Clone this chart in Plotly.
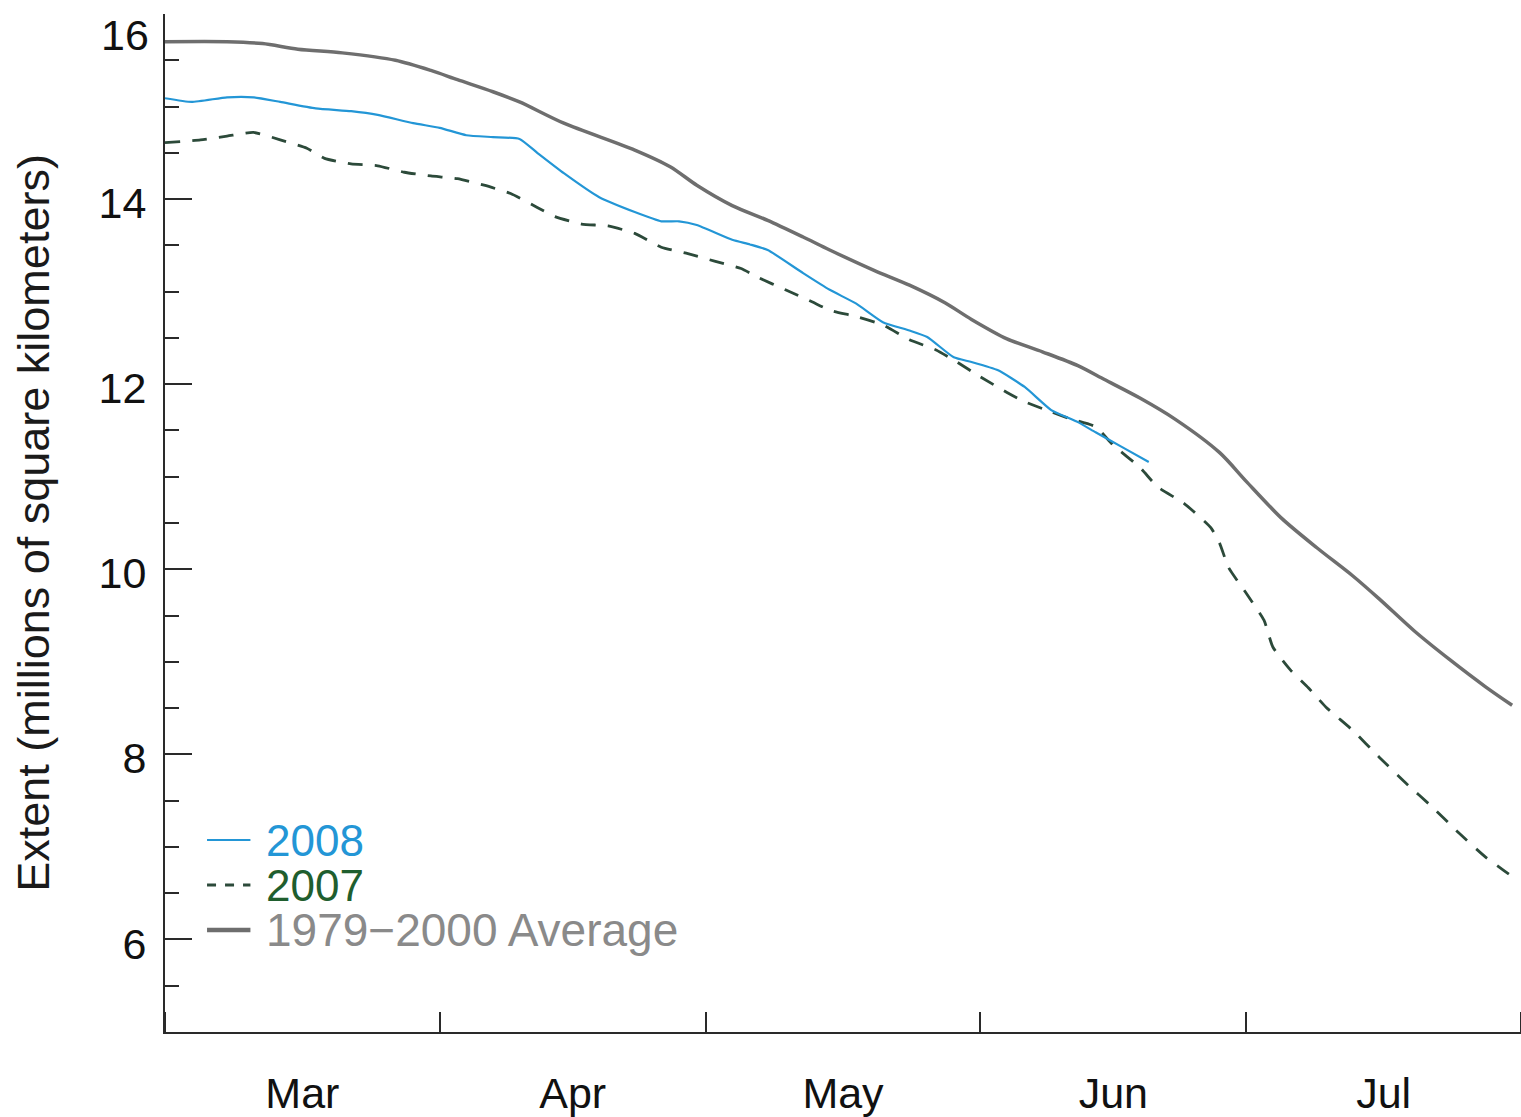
import plotly.graph_objects as go

# Arctic sea ice extent, millions of square kilometers
avg_dates = ["2008-03-01", "2008-03-08", "2008-03-12", "2008-03-16", "2008-03-21",
             "2008-03-27", "2008-03-31", "2008-04-03", "2008-04-07", "2008-04-10",
             "2008-04-15", "2008-04-23", "2008-04-27", "2008-04-30", "2008-05-04",
             "2008-05-08", "2008-05-12", "2008-05-15", "2008-05-20", "2008-05-24",
             "2008-05-28", "2008-05-31", "2008-06-04", "2008-06-08", "2008-06-12",
             "2008-06-15", "2008-06-19", "2008-06-23", "2008-06-28", "2008-07-01",
             "2008-07-05", "2008-07-09", "2008-07-13", "2008-07-16", "2008-07-20",
             "2008-07-24", "2008-07-28", "2008-07-31"]
avg_extent = [15.70, 15.70, 15.68, 15.62, 15.58,
              15.50, 15.39, 15.29, 15.16, 15.05,
              14.82, 14.53, 14.35, 14.15, 13.93,
              13.77, 13.59, 13.45, 13.23, 13.07,
              12.88, 12.70, 12.49, 12.35, 12.20,
              12.05, 11.85, 11.62, 11.26, 10.95,
              10.55, 10.23, 9.93, 9.68, 9.33,
              9.02, 8.73, 8.53]

ext2008_dates = ["2008-03-01", "2008-03-04", "2008-03-08", "2008-03-11", "2008-03-14",
                 "2008-03-18", "2008-03-22", "2008-03-25", "2008-03-29", "2008-04-01",
                 "2008-04-04", "2008-04-07", "2008-04-10", "2008-04-12", "2008-04-15",
                 "2008-04-19", "2008-04-23", "2008-04-26", "2008-04-28", "2008-04-30",
                 "2008-05-04", "2008-05-06", "2008-05-08", "2008-05-12", "2008-05-15",
                 "2008-05-18", "2008-05-21", "2008-05-24", "2008-05-26", "2008-05-29",
                 "2008-05-31", "2008-06-03", "2008-06-06", "2008-06-09", "2008-06-12",
                 "2008-06-14", "2008-06-17", "2008-06-20"]
ext2008 = [15.09, 15.05, 15.10, 15.10, 15.05,
           14.98, 14.95, 14.91, 14.82, 14.77,
           14.69, 14.67, 14.65, 14.50, 14.28,
           14.02, 13.86, 13.76, 13.76, 13.72,
           13.56, 13.51, 13.45, 13.20, 13.02,
           12.87, 12.67, 12.58, 12.51, 12.29,
           12.24, 12.15, 11.97, 11.72, 11.59,
           11.48, 11.32, 11.16]

ext2007_dates = ["2008-03-01", "2008-03-05", "2008-03-08", "2008-03-11", "2008-03-14",
                 "2008-03-17", "2008-03-19", "2008-03-22", "2008-03-25", "2008-03-28",
                 "2008-03-31", "2008-04-03", "2008-04-06", "2008-04-09", "2008-04-12",
                 "2008-04-14", "2008-04-17", "2008-04-20", "2008-04-23", "2008-04-26",
                 "2008-04-29", "2008-05-02", "2008-05-05", "2008-05-07", "2008-05-10",
                 "2008-05-13", "2008-05-15", "2008-05-18", "2008-05-21", "2008-05-24",
                 "2008-05-27", "2008-05-29", "2008-06-01", "2008-06-04", "2008-06-06",
                 "2008-06-09", "2008-06-11", "2008-06-14", "2008-06-16", "2008-06-19",
                 "2008-06-21", "2008-06-24", "2008-06-27", "2008-06-28", "2008-06-29",
                 "2008-07-01", "2008-07-03", "2008-07-04", "2008-07-06", "2008-07-08",
                 "2008-07-10", "2008-07-13", "2008-07-16", "2008-07-19", "2008-07-22",
                 "2008-07-25", "2008-07-28", "2008-07-30", "2008-07-31"]
ext2007 = [14.61, 14.64, 14.68, 14.72, 14.64,
           14.55, 14.44, 14.38, 14.36, 14.29,
           14.25, 14.22, 14.15, 14.06, 13.91,
           13.81, 13.73, 13.71, 13.63, 13.48,
           13.41, 13.33, 13.25, 13.15, 13.02,
           12.89, 12.80, 12.73, 12.64, 12.48,
           12.37, 12.26, 12.08, 11.91, 11.81,
           11.70, 11.63, 11.54, 11.34, 11.10,
           10.89, 10.71, 10.45, 10.28, 10.02,
           9.74, 9.45, 9.16, 8.91, 8.72,
           8.51, 8.26, 7.97, 7.69, 7.43,
           7.15, 6.89, 6.75, 6.68]

y_tick_vals = [6, 8, 10, 12, 14, 16]
y_tick_text = ["6", "8", "10", "12", "14", ""]

FONT = "Liberation Sans, Arial, Helvetica, sans-serif"
BLUE = "#2396d6"
GREEN_LINE = "#2c4a3a"
GREEN_TEXT = "#1f5e2e"
GRAY_LINE = "#6e6e6e"
GRAY_TEXT = "#8a8a8a"
AXIS = "#2a2a2a"

fig = go.Figure()
fig.add_trace(go.Scatter(x=avg_dates, y=avg_extent, mode="lines", name="1979\u22122000 Average",
                         line=dict(color=GRAY_LINE, width=3.5, shape="spline", smoothing=0.8)))
fig.add_trace(go.Scatter(x=ext2007_dates, y=ext2007, mode="lines", name="2007",
                         line=dict(color=GREEN_LINE, width=2.8, dash="15px,12px",
                                   shape="spline", smoothing=0.5)))
fig.add_trace(go.Scatter(x=ext2008_dates, y=ext2008, mode="lines", name="2008",
                         line=dict(color=BLUE, width=2.2, shape="spline", smoothing=0.5)))

# legend keys and labels, lower left inside the axes
legend_rows = [
    ("2008", BLUE, 2.2, "solid", 0.1886, 44),
    ("2007", GREEN_LINE, 2.8, "dash", 0.1444, 44),
    ("1979\u22122000 Average", GRAY_LINE, 4.5, "solid", 0.1002, 46),
]
text_colors = {"2008": BLUE, "2007": GREEN_TEXT}
for label, color, width, dash, ypos, size in legend_rows:
    fig.add_shape(type="line", xref="paper", yref="paper",
                  x0=0.031, x1=0.063, y0=ypos, y1=ypos,
                  line=dict(color=color, width=width, dash=dash))
    fig.add_annotation(xref="paper", yref="paper", x=0.073, y=ypos,
                       xanchor="left", yanchor="middle", showarrow=False,
                       text=label, font=dict(family=FONT, size=size,
                                             color=text_colors.get(label, GRAY_TEXT)))

# top tick label, nudged down so it stays on the page
fig.add_annotation(xref="paper", yref="y", x=0, y=16, xanchor="right", yanchor="middle",
                   xshift=-14, yshift=-21, showarrow=False, text="16",
                   font=dict(family=FONT, size=43, color="#111111"))

fig.update_layout(
    width=1521, height=1117,
    margin=dict(l=165, r=0, t=14, b=85),
    paper_bgcolor="white", plot_bgcolor="white",
    showlegend=False,
    font=dict(family=FONT, color="#111111"),
)
fig.update_xaxes(
    type="date", range=["2008-03-01", "2008-08-01"],
    tick0="2008-03-01", dtick="M1", tickformat="%b", ticklabelmode="period",
    ticks="inside", ticklen=20, tickwidth=2, tickcolor=AXIS,
    showline=True, linecolor=AXIS, linewidth=2, showgrid=False, zeroline=False,
    tickfont=dict(family=FONT, size=43, color="#111111"), ticklabelstandoff=22,
    automargin=False,
)
fig.update_yaxes(
    range=[5, 16], tickvals=y_tick_vals, ticktext=y_tick_text,
    ticks="inside", ticklen=27, tickwidth=2, tickcolor=AXIS,
    minor=dict(dtick=0.5, tick0=5, ticks="inside", ticklen=14, tickwidth=2, tickcolor=AXIS),
    showline=True, linecolor=AXIS, linewidth=2, showgrid=False, zeroline=False,
    tickfont=dict(family=FONT, size=43, color="#111111"), ticklabelstandoff=8,
    ticklabelshift=4, automargin=False,
    title=dict(text="Extent (millions of square kilometers)", standoff=35,
               font=dict(family=FONT, size=45, color="#1a1a1a")),
)

fig.write_html("out.html")
